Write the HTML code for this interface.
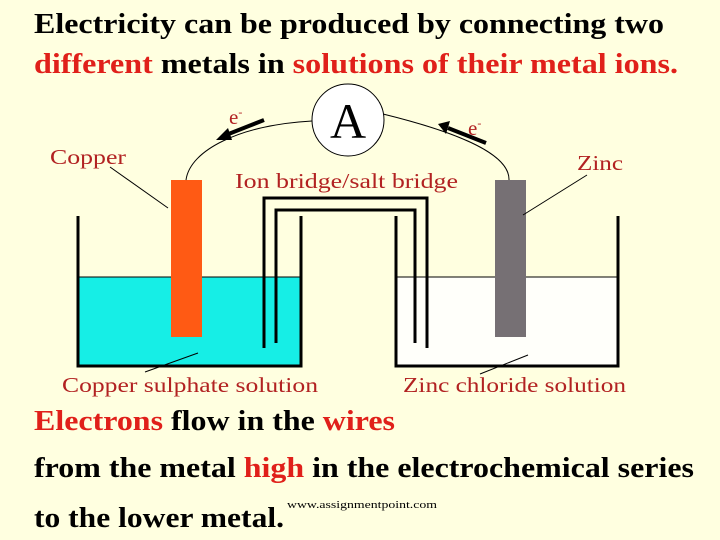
<!DOCTYPE html>
<html><head><style>
body{margin:0;background:#ffffe0;}
svg{display:block}
text{font-family:"Liberation Serif",serif;}
</style></head><body>
<svg width="720" height="540" viewBox="0 0 720 540">
<rect width="720" height="540" fill="#ffffe0"/>
<g font-weight="bold" font-size="29">
<text x="34" y="33" fill="#000" textLength="630" lengthAdjust="spacingAndGlyphs">Electricity can be produced by connecting two</text>
<text x="34" y="73" textLength="644" lengthAdjust="spacingAndGlyphs"><tspan fill="#e0201a">different</tspan><tspan fill="#000"> metals in </tspan><tspan fill="#e0201a">solutions of their metal ions.</tspan></text>
</g>
<!-- beakers -->
<rect x="78" y="277" width="223" height="89" fill="#16eee6"/>
<rect x="396" y="277" width="222" height="89" fill="#fffffa"/>
<line x1="78" y1="277" x2="301" y2="277" stroke="#000" stroke-width="1"/>
<line x1="396" y1="277" x2="618" y2="277" stroke="#000" stroke-width="1"/>
<polyline points="78,216 78,366 301,366 301,216" fill="none" stroke="#000" stroke-width="3"/>
<polyline points="396,216 396,366 618,366 618,216" fill="none" stroke="#000" stroke-width="3"/>
<!-- salt bridge -->
<polyline points="264,348 264,198 427,198 427,348" fill="none" stroke="#000" stroke-width="3"/>
<polyline points="276,343 276,210 415,210 415,343" fill="none" stroke="#000" stroke-width="3"/>
<!-- rods -->
<rect x="171" y="180" width="31" height="157" fill="#ff5a14"/>
<rect x="495" y="180" width="31" height="157" fill="#767074"/>
<!-- wires -->
<path d="M186,180 C190,150 240,125 312,121" fill="none" stroke="#000" stroke-width="1"/>
<path d="M383,114 C440,128 510,150 509,180" fill="none" stroke="#000" stroke-width="1"/>
<ellipse cx="348" cy="120" rx="36" ry="36" fill="#fff" stroke="#000" stroke-width="1"/>
<text x="348" y="138" font-size="50" text-anchor="middle" fill="#000">A</text>
<!-- arrows -->
<line x1="264" y1="120" x2="226" y2="135" stroke="#000" stroke-width="4"/>
<polygon points="216,140 228,128 232,140" fill="#000"/>
<line x1="486" y1="143" x2="448" y2="128" stroke="#000" stroke-width="4"/>
<polygon points="438,124 450,121 446,134" fill="#000"/>
<g fill="#b22222" font-size="21">
<text x="229" y="124">e<tspan font-size="12" dy="-8">-</tspan></text>
<text x="468" y="135">e<tspan font-size="12" dy="-8">-</tspan></text>
<text x="50" y="164" textLength="76" lengthAdjust="spacingAndGlyphs">Copper</text>
<text x="577" y="170" textLength="46" lengthAdjust="spacingAndGlyphs">Zinc</text>
<text x="235" y="188" textLength="223" lengthAdjust="spacingAndGlyphs">Ion bridge/salt bridge</text>
<text x="62" y="392" textLength="256" lengthAdjust="spacingAndGlyphs">Copper sulphate solution</text>
<text x="403" y="392" textLength="223" lengthAdjust="spacingAndGlyphs">Zinc chloride solution</text>
</g>
<g stroke="#000" stroke-width="1">
<line x1="110" y1="167" x2="168" y2="208"/>
<line x1="587" y1="175" x2="523" y2="215"/>
<line x1="145" y1="372" x2="198" y2="353"/>
<line x1="480" y1="374" x2="528" y2="355"/>
</g>
<g font-weight="bold" font-size="29">
<text x="34" y="430" textLength="361" lengthAdjust="spacingAndGlyphs"><tspan fill="#e0201a">Electrons</tspan><tspan fill="#000"> flow in the </tspan><tspan fill="#e0201a">wires</tspan></text>
<text x="34" y="477" textLength="660" lengthAdjust="spacingAndGlyphs"><tspan fill="#000">from the metal </tspan><tspan fill="#e0201a">high</tspan><tspan fill="#000"> in the electrochemical series</tspan></text>
<text x="34" y="527" fill="#000" textLength="250" lengthAdjust="spacingAndGlyphs">to the lower metal.</text>
</g>
<text x="287" y="508" font-size="11" fill="#000" textLength="150" lengthAdjust="spacingAndGlyphs">www.assignmentpoint.com</text>
</svg>
</body></html>
